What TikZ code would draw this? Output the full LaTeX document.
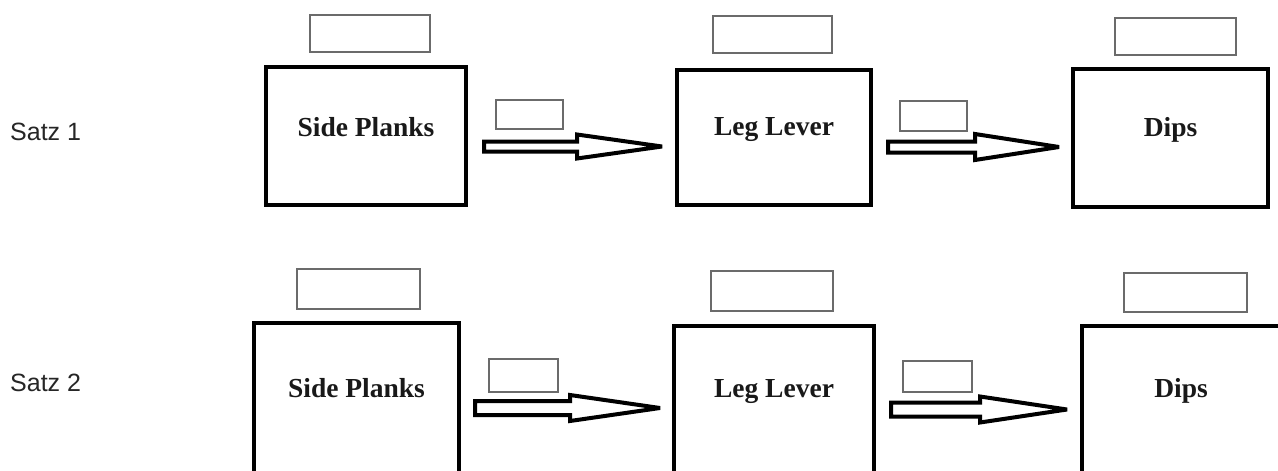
\documentclass[tikz,border=0pt]{standalone}
\usepackage{fontspec}
\setmainfont{Liberation Serif}
\newfontfamily\rowfont{Liberation Sans}
\usetikzlibrary{calc}

\tikzset{
  exbox/.style={draw=black, line width=4pt, fill=white, inner sep=0pt},
  tagbox/.style={draw=black!58, line width=1.6pt, fill=white, inner sep=0pt},
  exname/.style={font=\fontsize{27.5}{32}\selectfont\bfseries, text=black!90, anchor=center, inner sep=0pt},
  rowname/.style={font=\rowfont\fontsize{25}{29}\selectfont, text=black!85, anchor=west, inner sep=0pt},
  blockarrow/.style={draw=black, line width=4pt, line join=miter, miter limit=3, fill=white},
}

% hollow block arrow: #1 shaft start, #2 tip, #3 shaft half width,
% #4 head length, #5 head half width
\newcommand\blockarrow[5]{%
  \draw[blockarrow]
    ($(#1)+(0,-#3)$) -- ($(#1 -| #2)+(-#4,-#3)$) -- ($(#1 -| #2)+(-#4,-#5)$)
    -- (#1 -| #2) -- ($(#1 -| #2)+(-#4,#5)$) -- ($(#1 -| #2)+(-#4,#3)$)
    -- ($(#1)+(0,#3)$) -- cycle;}

\begin{document}
\begin{tikzpicture}[x=1pt,y=-1pt]
\useasboundingbox (0,0) rectangle (1278,471);
\clip (0,0) rectangle (1278,471);
\fill[white] (0,0) rectangle (1278,471);

% row labels
\node[rowname] (s1) at (10,131.5) {Satz 1};
\node[rowname] (s2) at (10,383) {Satz 2};

% ---- Satz 1 ----
\node[exbox, minimum width=200pt, minimum height=138pt,
      label={[exname, yshift=-62pt]north:Side Planks}] (A1) at (366,136) {};
\node[exbox, minimum width=194pt, minimum height=135pt,
      label={[exname, yshift=-62pt]north:Leg Lever}] (B1) at (774,137.5) {};
\node[exbox, minimum width=195pt, minimum height=138pt,
      label={[exname, yshift=-63pt]north:Dips}] (C1) at (1170.5,138) {};

\node[tagbox, minimum width=120.4pt, minimum height=37.4pt] (tA1) at (370,33.5) {};
\node[tagbox, minimum width=119.4pt, minimum height=37.4pt] (tB1) at (772.5,34.5) {};
\node[tagbox, minimum width=121.4pt, minimum height=37.4pt] (tC1) at (1175.5,36.5) {};
\node[tagbox, minimum width=67.4pt, minimum height=29.4pt] (lA1) at (529.5,114.5) {};
\node[tagbox, minimum width=67.4pt, minimum height=30.4pt] (lB1) at (933.5,116) {};

\coordinate (a1s) at ($(A1.east)+(16,10.5)$);
\coordinate (a1t) at ($(B1.west)+(-13,9)$);
\coordinate (b1s) at ($(B1.east)+(15,9.5)$);
\coordinate (b1t) at ($(C1.west)+(-12,9)$);
\blockarrow{a1s}{a1t}{5}{85}{12}
\blockarrow{b1s}{b1t}{5.5}{84}{13}

% ---- Satz 2 ----
\node[exbox, minimum width=205pt, minimum height=166pt,
      label={[exname, yshift=-67pt]north:Side Planks}] (A2) at (356.5,406) {};
\node[exbox, minimum width=200pt, minimum height=166pt,
      label={[exname, yshift=-68pt]north:Leg Lever}] (B2) at (774,409) {};
\node[exbox, minimum width=198pt, minimum height=166pt,
      label={[exname, yshift=-67pt]north:Dips}] (C2) at (1181,409) {};

\node[tagbox, minimum width=123.4pt, minimum height=40.4pt] (tA2) at (358.5,289) {};
\node[tagbox, minimum width=122.4pt, minimum height=40.4pt] (tB2) at (772,291) {};
\node[tagbox, minimum width=123.4pt, minimum height=39.4pt] (tC2) at (1185.5,292.5) {};
\node[tagbox, minimum width=69.4pt, minimum height=33.4pt] (lA2) at (523.5,375.5) {};
\node[tagbox, minimum width=69.4pt, minimum height=31.4pt] (lB2) at (937.5,376.5) {};

\coordinate (a2s) at ($(A2.east)+(14,2)$);
\coordinate (a2t) at ($(B2.west)+(-12,-1)$);
\coordinate (b2s) at ($(B2.east)+(15,0.5)$);
\coordinate (b2t) at ($(C2.west)+(-13,0.5)$);
\blockarrow{a2s}{a2t}{7}{90}{13}
\blockarrow{b2s}{b2t}{7}{87}{13}
\end{tikzpicture}
\end{document}
